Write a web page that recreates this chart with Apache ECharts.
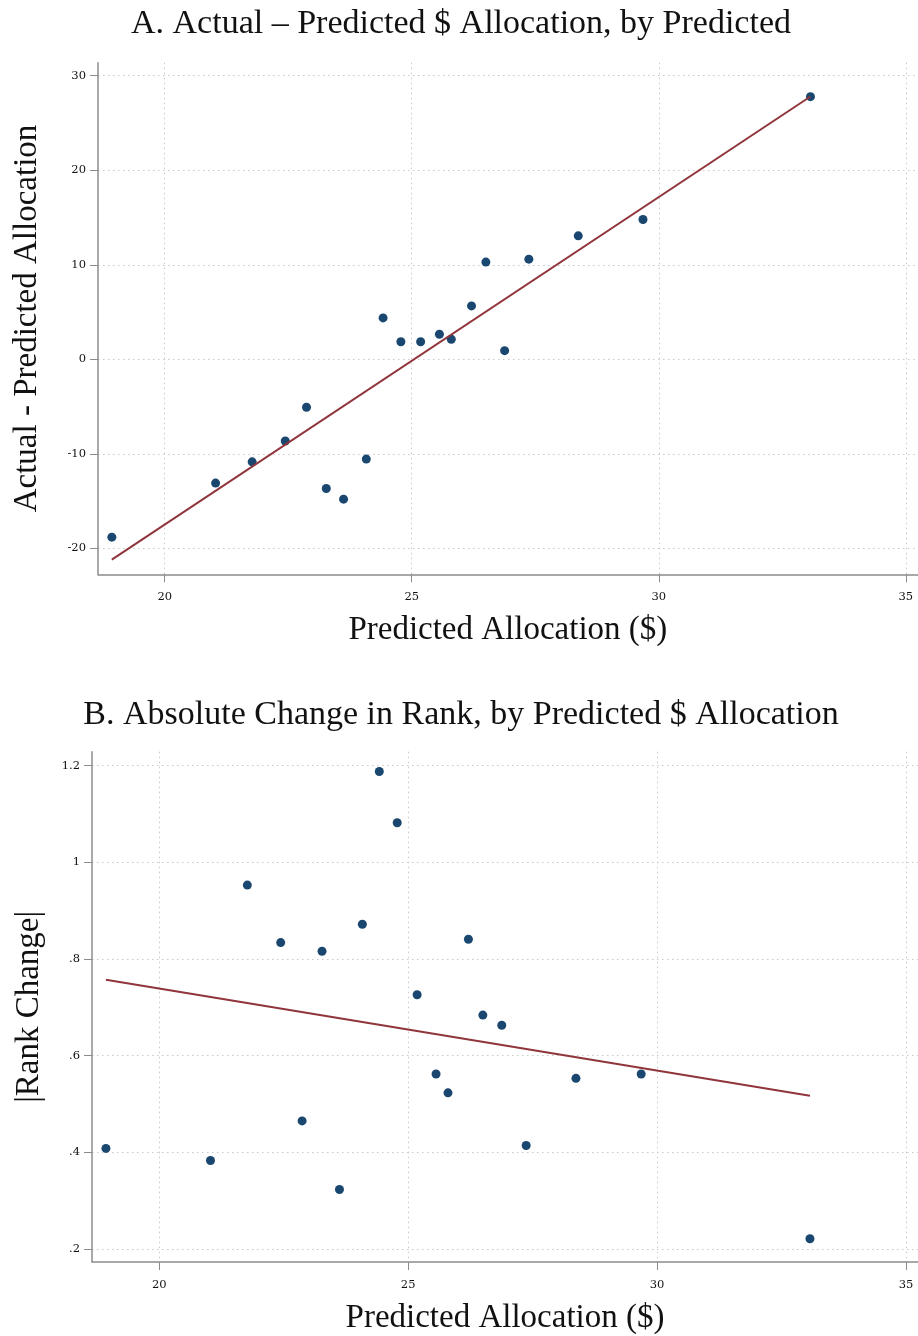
<!DOCTYPE html>
<html>
<head>
<meta charset="utf-8">
<script src="https://cdn.jsdelivr.net/npm/echarts@6/dist/echarts.min.js"></script>
<style>
  html, body { margin: 0; padding: 0; background: #ffffff; }
  #chart { width: 918px; height: 1336px; }
</style>
</head>
<body>
<div id="chart"></div>
<script>
// Predicted $ allocation per item (shared x values of both panels)
const predicted = [18.93, 21.03, 21.77, 22.44, 22.87, 23.27, 23.62, 24.08, 24.42, 24.78,
                   25.18, 25.56, 25.80, 26.21, 26.50, 26.88, 27.37, 28.37, 29.68, 33.07];
// Panel A: actual minus predicted allocation
const actualMinusPredicted = [-18.82, -13.10, -10.85, -8.65, -5.08, -13.67, -14.80, -10.56, 4.38, 1.86,
                              1.86, 2.65, 2.12, 5.65, 10.28, 0.91, 10.59, 13.06, 14.79, 27.79];
// Panel B: absolute change in rank
const absRankChange = [0.408, 0.383, 0.953, 0.834, 0.465, 0.816, 0.323, 0.872, 1.188, 1.082,
                       0.726, 0.562, 0.523, 0.841, 0.684, 0.663, 0.414, 0.553, 0.562, 0.221];
// Linear fit endpoints
const fitAX = [18.93, 33.07];
const fitAY = [-21.2, 27.8];
const fitBX = [18.93, 33.07];
const fitBY = [0.757, 0.517];
// Tick labels
const xTicks = [20, 25, 30, 35];
const yTicksA = [-20, -10, 0, 10, 20, 30];
const yTicksB = [0.2, 0.4, 0.6, 0.8, 1, 1.2];

const SERIF = '"Liberation Serif", "DejaVu Serif", serif';
const TICKFONT = '"DejaVu Serif", "Liberation Serif", serif';
const DOT = '#1a476f';
const FIT = '#90353b';

function pairs(xs, ys) { return xs.map((x, i) => [x, ys[i]]); }
function stataNum(v) { return String(+v.toFixed(2)).replace(/^(-?)0\./, '$1.'); }

function tickLabels(ticks, margin) {
  return { show: true, customValues: ticks, formatter: stataNum, margin,
           fontFamily: TICKFONT, fontSize: 11.5, color: '#111' };
}

function valueAxis(gridIndex, min, max, ticks, extra) {
  return Object.assign({
    type: 'value', gridIndex, min, max,
    axisLine: { show: true, onZero: false, lineStyle: { color: '#8c8c8c', width: 1.5 } },
    axisTick: { show: true, length: 8, customValues: ticks, lineStyle: { color: '#8c8c8c', width: 1 } },
    splitLine: { show: true, lineStyle: { color: '#c9c9c9', type: [1.5, 3.5], width: 1 } },
    nameLocation: 'middle',
    nameTextStyle: { fontFamily: SERIF, fontSize: 33, color: '#111' }
  }, extra);
}

const chart = echarts.init(document.getElementById('chart'), null, { renderer: 'canvas' });
chart.setOption({
  backgroundColor: '#ffffff',
  animation: false,
  title: [
    { text: 'A. Actual \u2013 Predicted $ Allocation, by Predicted', left: 456, top: 2, textAlign: 'center',
      textStyle: { fontFamily: SERIF, fontWeight: 'normal', fontSize: 34, color: '#111' } },
    { text: 'B. Absolute Change in Rank, by Predicted $ Allocation', left: 456, top: 693, textAlign: 'center',
      textStyle: { fontFamily: SERIF, fontWeight: 'normal', fontSize: 34, color: '#111' } }
  ],
  grid: [
    { left: 98, top: 62.7, width: 819.7, height: 511.6, containLabel: false },
    { left: 92, top: 751.7, width: 826, height: 513.3, containLabel: false }
  ],
  xAxis: [
    valueAxis(0, 18.65, 35.24, xTicks, { name: 'Predicted Allocation ($)', nameGap: 40,
      axisLabel: tickLabels(xTicks, 17) }),
    valueAxis(1, 18.65, 35.24, xTicks, { name: 'Predicted Allocation ($)', nameGap: 40,
      axisLabel: tickLabels(xTicks, 17) })
  ],
  yAxis: [
    valueAxis(0, -22.75, 31.38, yTicksA, { name: 'Actual - Predicted Allocation', nameGap: 54,
      axisLabel: tickLabels(yTicksA, 12) }),
    valueAxis(1, 0.173, 1.229, yTicksB, { name: '|Rank Change|', nameGap: 46,
      axisLabel: tickLabels(yTicksB, 12) })
  ],
  series: [
    { type: 'scatter', xAxisIndex: 0, yAxisIndex: 0, data: pairs(predicted, actualMinusPredicted),
      symbol: 'circle', symbolSize: 9, itemStyle: { color: DOT, opacity: 1 }, silent: true },
    { type: 'line', xAxisIndex: 0, yAxisIndex: 0, data: pairs(fitAX, fitAY),
      showSymbol: false, lineStyle: { color: FIT, width: 2 }, silent: true },
    { type: 'scatter', xAxisIndex: 1, yAxisIndex: 1, data: pairs(predicted, absRankChange),
      symbol: 'circle', symbolSize: 9, itemStyle: { color: DOT, opacity: 1 }, silent: true },
    { type: 'line', xAxisIndex: 1, yAxisIndex: 1, data: pairs(fitBX, fitBY),
      showSymbol: false, lineStyle: { color: FIT, width: 2 }, silent: true }
  ]
});
</script>
</body>
</html>
